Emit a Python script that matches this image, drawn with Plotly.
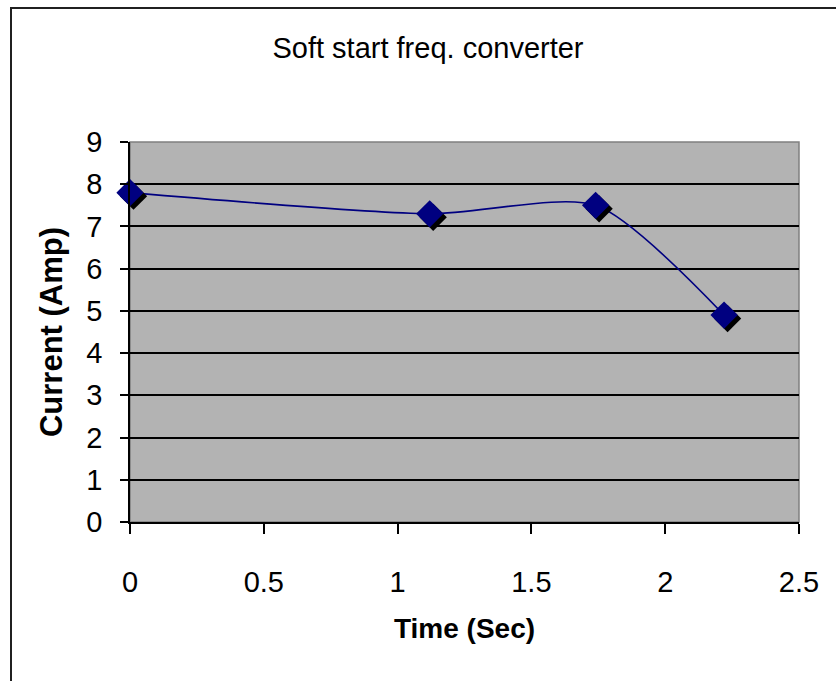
import plotly.graph_objects as go

# Measured current during a soft start with a frequency converter
time_sec = [0.0, 1.12, 1.74, 2.22]
current_amp = [7.8, 7.3, 7.5, 4.9]

x_ticks = [0, 0.5, 1, 1.5, 2, 2.5]
x_tick_text = ["0", "0.5", "1", "1.5", "2", "2.5"]
y_ticks = list(range(0, 10))

X_RANGE = [0, 2.5]
Y_RANGE = [0, 9]

W, H = 836, 681
M_L, M_R, M_T, M_B = 130, 37, 142, 159
plot_w = W - M_L - M_R
plot_h = H - M_T - M_B

# shadow offset in pixels, turned into an axis range shift
SHADOW_PX = 3.5
dx = SHADOW_PX * (X_RANGE[1] - X_RANGE[0]) / plot_w
dy = SHADOW_PX * (Y_RANGE[1] - Y_RANGE[0]) / plot_h

FONT = "Liberation Sans, Arial, sans-serif"
NAVY = "#000080"
MARKER_SIZE = 21

fig = go.Figure()

# smoothed connecting line on the main axes
fig.add_trace(go.Scatter(
    x=time_sec, y=current_amp,
    mode="lines",
    line=dict(color=NAVY, width=1.6, shape="spline", smoothing=0.7),
    cliponaxis=False, showlegend=False, hoverinfo="skip",
))

# drop shadow of the markers
fig.add_trace(go.Scatter(
    x=time_sec, y=current_amp, xaxis="x2", yaxis="y2",
    mode="markers",
    marker=dict(symbol="diamond", size=MARKER_SIZE, color="black", line=dict(width=0)),
    cliponaxis=False, showlegend=False, hoverinfo="skip",
))

# diamond markers
fig.add_trace(go.Scatter(
    x=time_sec, y=current_amp, xaxis="x3", yaxis="y3",
    mode="markers",
    marker=dict(symbol="diamond", size=MARKER_SIZE, color=NAVY, line=dict(width=0)),
    cliponaxis=False, showlegend=False,
))

hidden = dict(visible=False, fixedrange=True)

fig.update_layout(
    width=W, height=H,
    margin=dict(l=M_L, r=M_R, t=M_T, b=M_B),
    paper_bgcolor="white",
    plot_bgcolor="#b3b3b3",
    font=dict(family=FONT, color="black", size=28),
    title=dict(
        text="Soft start freq. converter",
        font=dict(family=FONT, size=29, color="black"),
        x=428 / W, xanchor="center",
        y=1 - 48 / H, yanchor="middle",
    ),
    xaxis=dict(
        range=X_RANGE, tickvals=x_ticks, ticktext=x_tick_text,
        showgrid=False, zeroline=False,
        showline=True, linecolor="black", linewidth=1.5,
        ticks="outside", ticklen=10, tickwidth=1.5, tickcolor="black",
        ticklabelstandoff=23,
        tickfont=dict(family=FONT, size=29),
        title=dict(text="<b>Time (Sec)</b>", font=dict(family=FONT, size=28), standoff=22),
        fixedrange=True,
    ),
    yaxis=dict(
        range=Y_RANGE, tickvals=y_ticks,
        showgrid=True, gridcolor="black", gridwidth=1.5,
        zeroline=False,
        showline=True, linecolor="black", linewidth=1.5,
        ticks="outside", ticklen=8, tickwidth=1.5, tickcolor="black",
        ticklabelstandoff=12,
        tickfont=dict(family=FONT, size=29),
        title=dict(text="<b>Current (Amp)</b>", font=dict(family=FONT, size=31), standoff=14),
        fixedrange=True,
    ),
    xaxis2=dict(range=[X_RANGE[0] - dx, X_RANGE[1] - dx], overlaying="x", **hidden),
    yaxis2=dict(range=[Y_RANGE[0] + dy, Y_RANGE[1] + dy], overlaying="y", **hidden),
    xaxis3=dict(range=X_RANGE, overlaying="x", **hidden),
    yaxis3=dict(range=Y_RANGE, overlaying="y", **hidden),
    shapes=[
        # plot-area frame (gray on the top and right)
        dict(type="rect", xref="paper", yref="paper", x0=0, x1=1, y0=0, y1=1,
             line=dict(color="#808080", width=1.5), layer="below"),
        # outer chart border
        dict(type="rect", xref="paper", yref="paper",
             x0=(11 - M_L) / plot_w, x1=(850 - M_L) / plot_w,
             y0=(H - M_B - 700) / plot_h, y1=1 + (M_T - 8) / plot_h,
             line=dict(color="#202020", width=2), layer="above"),
    ],
)

fig.write_html("out.html")
